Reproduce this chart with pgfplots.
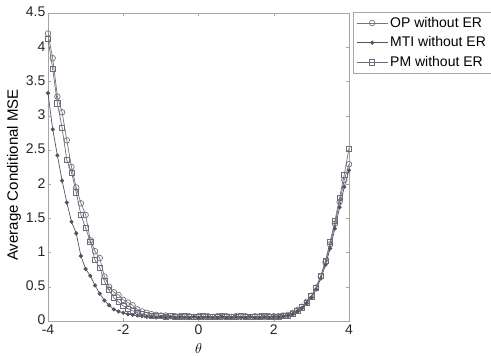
\documentclass[border=0pt]{standalone}
\usepackage{pgfplots}
\pgfplotsset{compat=1.18}
\usepackage{pgfplotstable}
\usepackage{fontspec}
\setmainfont{Liberation Sans}

\definecolor{opc}{RGB}{120,112,125}
\definecolor{mtic}{RGB}{85,82,92}
\definecolor{pmc}{RGB}{110,108,122}

\pgfplotstableread{
x y
-4 4.20
-3.875 3.84
-3.75 3.28
-3.625 3.05
-3.5 2.64
-3.375 2.25
-3.25 1.95
-3.125 1.72
-3 1.55
-2.875 1.18
-2.75 1.02
-2.625 0.92
-2.5 0.65
-2.375 0.50
-2.25 0.42
-2.125 0.38
-2 0.31
-1.875 0.27
-1.75 0.23
-1.625 0.17
-1.5 0.14
-1.375 0.12
-1.25 0.10
-1.125 0.09
-1 0.08
-0.875 0.08
-0.75 0.07
-0.625 0.07
-0.5 0.07
-0.375 0.06
-0.25 0.07
-0.125 0.06
0 0.07
0.125 0.06
0.25 0.07
0.375 0.06
0.5 0.07
0.625 0.06
0.75 0.07
0.875 0.06
1 0.07
1.125 0.06
1.25 0.07
1.375 0.06
1.5 0.07
1.625 0.07
1.75 0.06
1.875 0.07
2 0.07
2.125 0.07
2.25 0.08
2.375 0.09
2.5 0.12
2.625 0.16
2.75 0.21
2.875 0.28
3 0.37
3.125 0.49
3.25 0.65
3.375 0.86
3.5 1.12
3.625 1.42
3.75 1.74
3.875 2.06
4 2.29
}\optable

\pgfplotstableread{
x y
-4 3.33
-3.875 2.80
-3.75 2.42
-3.625 2.05
-3.5 1.73
-3.375 1.45
-3.25 1.28
-3.125 0.95
-3 0.76
-2.875 0.66
-2.75 0.52
-2.625 0.40
-2.5 0.30
-2.375 0.23
-2.25 0.17
-2.125 0.14
-2 0.12
-1.875 0.10
-1.75 0.09
-1.625 0.08
-1.5 0.07
-1.375 0.06
-1.25 0.06
-1.125 0.05
-1 0.06
-0.875 0.05
-0.75 0.06
-0.625 0.05
-0.5 0.06
-0.375 0.05
-0.25 0.05
-0.125 0.06
0 0.05
0.125 0.05
0.25 0.06
0.375 0.05
0.5 0.05
0.625 0.06
0.75 0.05
0.875 0.05
1 0.06
1.125 0.05
1.25 0.05
1.375 0.06
1.5 0.05
1.625 0.05
1.75 0.06
1.875 0.05
2 0.06
2.125 0.06
2.25 0.07
2.375 0.08
2.5 0.10
2.625 0.14
2.75 0.19
2.875 0.26
3 0.34
3.125 0.46
3.25 0.62
3.375 0.82
3.5 1.06
3.625 1.35
3.75 1.66
3.875 1.96
4 2.20
}\mtitable

\pgfplotstableread{
x y
-4 4.12
-3.875 3.68
-3.75 3.18
-3.625 2.82
-3.5 2.35
-3.375 2.17
-3.25 1.88
-3.125 1.55
-3 1.36
-2.875 1.16
-2.75 0.89
-2.625 0.78
-2.5 0.58
-2.375 0.45
-2.25 0.34
-2.125 0.28
-2 0.22
-1.875 0.18
-1.75 0.15
-1.625 0.12
-1.5 0.10
-1.375 0.09
-1.25 0.08
-1.125 0.07
-1 0.07
-0.875 0.06
-0.75 0.07
-0.625 0.06
-0.5 0.06
-0.375 0.07
-0.25 0.06
-0.125 0.06
0 0.06
0.125 0.07
0.25 0.06
0.375 0.06
0.5 0.06
0.625 0.07
0.75 0.06
0.875 0.06
1 0.06
1.125 0.07
1.25 0.06
1.375 0.06
1.5 0.06
1.625 0.06
1.75 0.07
1.875 0.06
2 0.06
2.125 0.06
2.25 0.07
2.375 0.08
2.5 0.11
2.625 0.15
2.75 0.20
2.875 0.27
3 0.36
3.125 0.49
3.25 0.66
3.375 0.88
3.5 1.16
3.625 1.46
3.75 1.80
3.875 2.14
4 2.52
}\pmtable

\begin{document}
\begin{tikzpicture}
\begin{axis}[
  name=ax,
  width=301pt, height=308pt, scale only axis,
  xmin=-4, xmax=4, ymin=0, ymax=4.5,
  enlargelimits=false,
  axis line style={gray!70, line width=0.5pt},
  tick style={gray!70},
  tick align=inside,
  major tick length=3pt,
  xtick={-4,-2,0,2,4},
  ytick={0,0.5,1,1.5,2,2.5,3,3.5,4,4.5},
  /pgf/number format/assume math mode=true,
  tick label style={font=\fontsize{14}{14}\selectfont, text=black!85},
  xticklabel style={yshift=-3.5pt, inner sep=0.5pt},
  yticklabel style={inner sep=1pt, xshift=-1.5pt, yshift=1pt},
  xlabel={\fontsize{15}{15}\selectfont$\theta$},
  xlabel style={at={(axis description cs:0.5,-0.089)}, anchor=center},
  ylabel={Average Conditional MSE},
  ylabel style={at={(axis description cs:-0.113,0.474)}, anchor=center, font=\fontsize{15}{15}\selectfont},
  legend style={at={(1,1)}, anchor=north west, xshift=4pt, yshift=1pt,
    draw=gray!70, font=\fontsize{14}{16}\selectfont, inner sep=3pt,
    row sep=4pt},
  legend cell align=left,
  legend image code/.code={\draw[mark repeat=2,mark phase=2] plot coordinates {(0cm,0cm) (0.55cm,0cm) (1.1cm,0cm)};},
]
\addplot[color=opc, line width=0.7pt, mark=o, mark size=2.8pt] table {\optable};
\addlegendentry{OP without ER}
\addplot[color=mtic, line width=0.7pt, mark=*, mark size=1.7pt] table {\mtitable};
\addlegendentry{MTI without ER}
\addplot[color=pmc, line width=0.7pt, mark=square, mark size=2.6pt] table {\pmtable};
\addlegendentry{PM without ER}
\end{axis}
\pgfresetboundingbox
\path[use as bounding box] ([xshift=-48pt,yshift=-34pt]ax.south west) rectangle ([xshift=142pt,yshift=13pt]ax.north east);
\end{tikzpicture}
\end{document}
